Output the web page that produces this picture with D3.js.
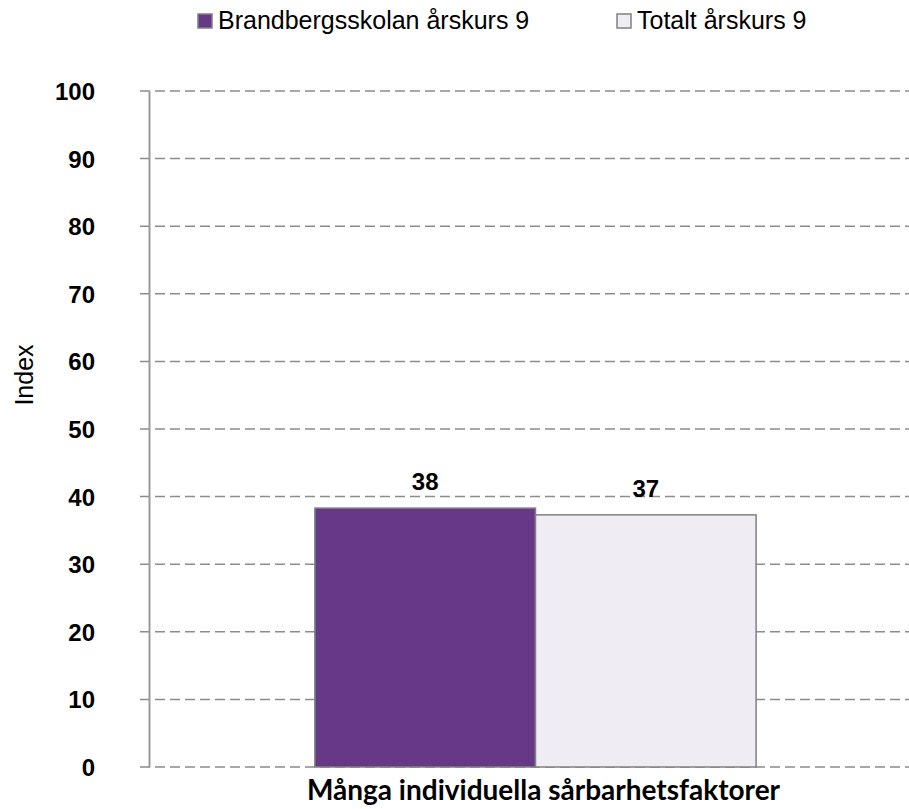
<!DOCTYPE html>
<html><head><meta charset="utf-8">
<script src="https://cdn.jsdelivr.net/npm/d3@7"></script>
<style>body{margin:0;background:#fff}svg{display:block}</style>
</head><body>
<svg id="c" width="909" height="809"></svg>
<script>
const categories = ["Många individuella sårbarhetsfaktorer"];
const seriesNames = ["Brandbergsskolan årskurs 9", "Totalt årskurs 9"];
const seriesValues = [[38.3], [37.3]];
const seriesLabels = [["38"], ["37"]];
const yTicks = [0,10,20,30,40,50,60,70,80,90,100];
const colors = ["#673886", "#EFECF4"];

(function(){
const svg = d3.select("#c");
const mLeft = 149, mRight = 922, mTop = 91, mBottom = 767;
const y = d3.scaleLinear().domain([0,100]).range([mBottom, mTop]);
const x0 = d3.scaleBand().domain(categories).range([mLeft, mRight]).paddingInner(0).paddingOuter(0.376);
const x1 = d3.scaleBand().domain(seriesNames).range([0, x0.bandwidth()]);

// grid
svg.append("g").selectAll("line").data(yTicks).join("line")
  .attr("x1", mLeft - 9).attr("x2", 909)
  .attr("y1", d => y(d)).attr("y2", d => y(d))
  .attr("stroke", "#8c8c8c").attr("stroke-width", 1.5).attr("stroke-dasharray", "10,5");

// y axis
const yAxis = d3.axisLeft(y).tickValues(yTicks).tickSize(0).tickPadding(0);
const ga = svg.append("g").attr("transform", `translate(${mLeft},0)`).call(yAxis);
ga.select(".domain").attr("stroke", "#999").attr("stroke-width", 2);
ga.selectAll("text").attr("x", -54).attr("dy", "0.35em")
  .style("font-family", "Liberation Sans, Arial, sans-serif").style("font-size", "24px")
  .style("font-weight", "bold").attr("fill", "#000");

// bars
const gc = svg.append("g").selectAll("g").data(categories).join("g")
  .attr("transform", d => `translate(${x0(d)},0)`);
seriesNames.forEach((s, si) => {
  gc.append("rect")
    .attr("x", x1(s)).attr("width", x1.bandwidth())
    .attr("y", (d, ci) => y(seriesValues[si][ci]))
    .attr("height", (d, ci) => y(0) - y(seriesValues[si][ci]))
    .attr("fill", colors[si]).attr("stroke", "#808080").attr("stroke-width", 1.5);
  gc.append("text")
    .attr("x", x1(s) + x1.bandwidth()/2)
    .attr("y", (d, ci) => y(seriesValues[si][ci]) - 18)
    .attr("text-anchor", "middle")
    .style("font-family", "Liberation Sans, Arial, sans-serif").style("font-size", "24px").style("font-weight", "bold")
    .text((d, ci) => seriesLabels[si][ci]);
});

// x label
svg.append("g").selectAll("text").data(categories).join("text")
  .attr("x", d => x0(d) + x0.bandwidth()/2 + 8).attr("y", 800)
  .attr("text-anchor", "middle")
  .style("font-family", "Lato, sans-serif").style("font-size", "28px").style("font-weight", "bold")
  .text(d => d);

// y title
svg.append("text").attr("transform", "translate(33,375) rotate(-90)")
  .attr("text-anchor", "middle")
  .style("font-family", "Liberation Sans, Arial, sans-serif").style("font-size", "25px")
  .text("Index");

// legend
const legX = [198, 617];
const lg = svg.append("g").selectAll("g").data(seriesNames).join("g")
  .attr("transform", (d, i) => `translate(${legX[i]},0)`);
lg.append("rect").attr("width", 14).attr("height", 14).attr("y", 14)
  .attr("fill", (d, i) => colors[i]).attr("stroke", "#808080").attr("stroke-width", 1.5);
lg.append("text").attr("x", 20).attr("y", 29)
  .style("font-family", "Liberation Sans, Arial, sans-serif").style("font-size", "25px")
  .text(d => d);
})();
</script>
</body></html>
